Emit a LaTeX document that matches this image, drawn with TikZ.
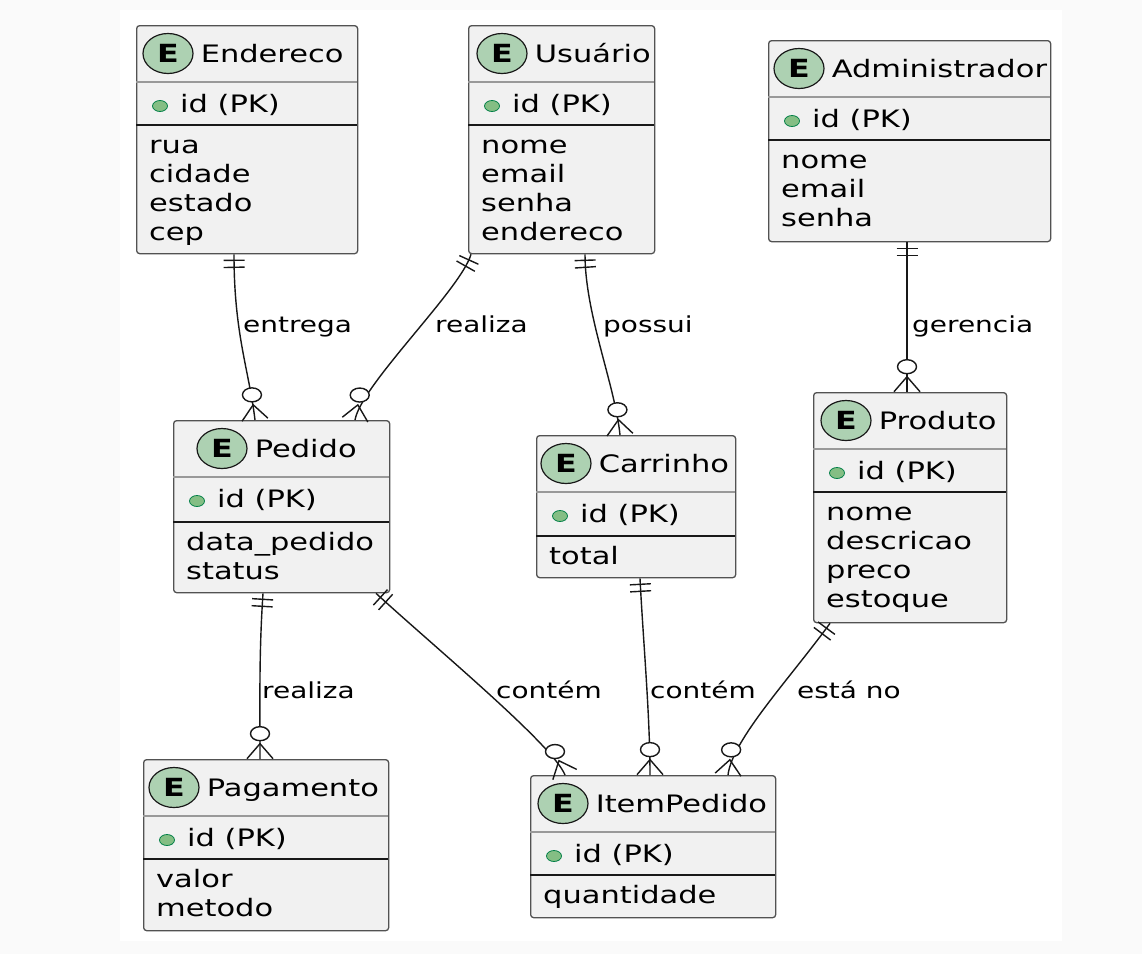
\documentclass[tikz,border=0pt]{standalone}
\usepackage{fontspec}
\setmainfont{DejaVu Sans}[FakeStretch=1.27]
\usetikzlibrary{positioning,shapes.geometric,decorations.markings}

\definecolor{entfill}{HTML}{F1F1F1}
\definecolor{entline}{HTML}{181818}
\definecolor{badgefill}{HTML}{ADD1B2}
\definecolor{keyfill}{HTML}{84BE84}
\definecolor{keyline}{HTML}{038048}
\definecolor{pagebg}{HTML}{FAFAFA}

\tikzset{
  entity/.style={draw=entline!75, fill=entfill, line width=1.3pt, rounded corners=3pt, anchor=north west, inner sep=0pt},
  badge/.style={ellipse, draw=entline, fill=badgefill, line width=1.2pt, minimum width=50pt, minimum height=40pt, inner sep=0pt, font=\fontsize{25}{25}\selectfont\bfseries},
  ename/.style={inner sep=0pt, text height=18pt, text depth=0pt, font=\fontsize{24}{28}\selectfont},
  keydot/.style={ellipse, draw=keyline, fill=keyfill, line width=0.8pt, minimum width=15pt, minimum height=11pt, inner sep=0pt},
  field/.style={inner sep=0pt, anchor=base west, font=\fontsize{24}{28}\selectfont},
  lbl/.style={inner sep=0pt, anchor=base west, font=\fontsize{22}{26}\selectfont},
  headsep/.style={draw=gray!80, line width=1.3pt},
  keysep/.style={draw=entline, line width=1.3pt},
  zcirc/.style={ellipse, draw=entline, fill=white, line width=1.4pt, minimum width=19pt, minimum height=14pt, inner sep=0pt},
  rel/.style={draw=entline, line width=1.4pt, postaction={decorate}, decoration={markings,
     mark=at position 6pt with {\draw[entline, line width=1.4pt] (0,-10.5pt) -- (0,10.5pt);},
     mark=at position 13pt with {\draw[entline, line width=1.4pt] (0,-10.5pt) -- (0,10.5pt);},
     mark=at position 0.998 with {\draw[entline, line width=1.4pt] (0,-13pt) -- (-15pt,0) -- (0,13pt); \node[zcirc] at (-25pt,0) {};}}}
}

\begin{document}
\begin{tikzpicture}[x=1pt, y=-1pt]

\fill[pagebg] (0,0) rectangle (1142,954);
\fill[white] (120,10) rectangle (1062,941);
\useasboundingbox (0,0) rectangle (1142,954);

% Endereco
\node[entity, minimum width=221pt, minimum height=228pt] (endereco) at (136,25) {};
\draw[headsep] (136,82) -- (357,82);
\draw[keysep] (136,125) -- (357,125);
\node[badge] (endE) at (168,53.5) {E};
\node[ename, right=7pt of endE] (endName) {Endereco};
\node[keydot] (endKey) at (160,106) {};
\node[field] (endId) at (180,112) {id (PK)};
\node[field] (endRua) at (149,153) {rua};
\node[field] (endCidade) at (149,182) {cidade};
\node[field] (endEstado) at (149,211) {estado};
\node[field] (endCep) at (149,240) {cep};

% Usuario
\node[entity, minimum width=186pt, minimum height=228pt] (usuario) at (468,25) {};
\draw[headsep] (468,82) -- (654,82);
\draw[keysep] (468,125) -- (654,125);
\node[badge] (usuE) at (502,53.5) {E};
\node[ename, right=7pt of usuE] (usuName) {Usuário};
\node[keydot] (usuKey) at (492,106) {};
\node[field] (usuId) at (512,112) {id (PK)};
\node[field] (usuNome) at (481,153) {nome};
\node[field] (usuEmail) at (481,182) {email};
\node[field] (usuSenha) at (481,211) {senha};
\node[field] (usuEnd) at (481,240) {endereco};

% Administrador
\node[entity, minimum width=282pt, minimum height=201pt] (admin) at (768,40) {};
\draw[headsep] (768,97) -- (1050,97);
\draw[keysep] (768,140) -- (1050,140);
\node[badge] (admE) at (799,68.5) {E};
\node[ename, right=7pt of admE] (admName) {Administrador};
\node[keydot] (admKey) at (792,121) {};
\node[field] (admId) at (812,127) {id (PK)};
\node[field] (admNome) at (781,168) {nome};
\node[field] (admEmail) at (781,197) {email};
\node[field] (admSenha) at (781,226) {senha};

% Pedido
\node[entity, minimum width=216pt, minimum height=172pt] (pedido) at (173,420) {};
\draw[headsep] (173,477) -- (389,477);
\draw[keysep] (173,522) -- (389,522);
\node[badge] (pedE) at (222,448.5) {E};
\node[ename, right=7pt of pedE] (pedName) {Pedido};
\node[keydot] (pedKey) at (197,501) {};
\node[field] (pedId) at (217,507) {id (PK)};
\node[field] (pedData) at (186,550) {data\_pedido};
\node[field] (pedStatus) at (186,579) {status};

% Carrinho
\node[entity, minimum width=199pt, minimum height=142pt] (carrinho) at (536,435) {};
\draw[headsep] (536,492) -- (735,492);
\draw[keysep] (536,536) -- (735,536);
\node[badge] (carE) at (566,463.5) {E};
\node[ename, right=7pt of carE] (carName) {Carrinho};
\node[keydot] (carKey) at (560,516) {};
\node[field] (carId) at (580,522) {id (PK)};
\node[field] (carTotal) at (549,564) {total};

% Produto
\node[entity, minimum width=193pt, minimum height=230pt] (produto) at (813,392) {};
\draw[headsep] (813,449) -- (1006,449);
\draw[keysep] (813,492) -- (1006,492);
\node[badge] (proE) at (846,420.5) {E};
\node[ename, right=7pt of proE] (proName) {Produto};
\node[keydot] (proKey) at (837,473) {};
\node[field] (proId) at (857,479) {id (PK)};
\node[field] (proNome) at (826,520) {nome};
\node[field] (proDesc) at (826,549) {descricao};
\node[field] (proPreco) at (826,578) {preco};
\node[field] (proEstoque) at (826,607) {estoque};

% Pagamento
\node[entity, minimum width=245pt, minimum height=171pt] (pagamento) at (143,759) {};
\draw[headsep] (143,816) -- (388,816);
\draw[keysep] (143,859) -- (388,859);
\node[badge] (pagE) at (174,787.5) {E};
\node[ename, right=7pt of pagE] (pagName) {Pagamento};
\node[keydot] (pagKey) at (167,840) {};
\node[field] (pagId) at (187,846) {id (PK)};
\node[field] (pagValor) at (156,887) {valor};
\node[field] (pagMetodo) at (156,916) {metodo};

% ItemPedido
\node[entity, minimum width=245pt, minimum height=142pt] (item) at (530,775) {};
\draw[headsep] (530,832) -- (775,832);
\draw[keysep] (530,875) -- (775,875);
\node[badge] (itmE) at (563,803.5) {E};
\node[ename, right=7pt of itmE] (itmName) {ItemPedido};
\node[keydot] (itmKey) at (554,856) {};
\node[field] (itmId) at (574,862) {id (PK)};
\node[field] (itmQtd) at (543,903) {quantidade};

% relations
\draw[rel] ([xshift=98pt]endereco.south west) .. controls +(0,80) and +(-6,-50) .. ([xshift=82pt]pedido.north west);
\draw[rel] ([xshift=3pt]usuario.south west) .. controls +(-10,35) and +(6,-35) .. ([xshift=182pt]pedido.north west);
\draw[rel] ([xshift=117pt]usuario.south west) .. controls +(0,60) and +(-5,-50) .. ([xshift=84pt]carrinho.north west);
\draw[rel] ([xshift=139pt]admin.south west) -- ([xshift=94pt]produto.north west);
\draw[rel] ([xshift=90pt]pedido.south west) .. controls +(-4,60) and +(0,-60) .. ([xshift=117pt]pagamento.north west);
\draw[rel] ([xshift=203pt]pedido.south west) .. controls +(60,55) and +(-12,-30) .. ([xshift=35pt]item.north west);
\draw[rel] ([xshift=104pt]carrinho.south west) .. controls +(3,60) and +(0,-60) .. ([xshift=120pt]item.north west);
\draw[rel] ([xshift=17pt]produto.south west) .. controls +(-40,55) and +(4,-35) .. ([xshift=198pt]item.north west);

% labels
\node[lbl] (lEntrega) at (243,332) {entrega};
\node[lbl] (lRealiza) at (435,332) {realiza};
\node[lbl] (lPossui) at (603,332) {possui};
\node[lbl] (lGerencia) at (912,332) {gerencia};
\node[lbl] (lPaga) at (262,698) {realiza};
\node[lbl] (lContem) at (496,698) {contém};
\node[lbl] (lContem2) at (650,698) {contém};
\node[lbl] (lEstaNo) at (797,698) {está no};

\end{tikzpicture}
\end{document}
